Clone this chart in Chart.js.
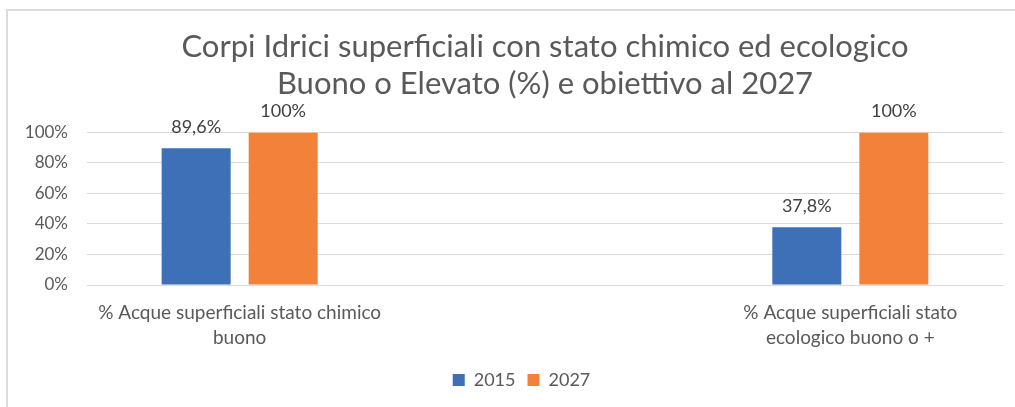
<!DOCTYPE html>
<html lang="it">
<head>
<meta charset="utf-8">
<title>Corpi Idrici superficiali</title>
<script src="https://cdn.jsdelivr.net/npm/chart.js@4/dist/chart.umd.min.js"></script>
<style>
  html, body { margin: 0; padding: 0; background: #fff; }
  #wrap { position: relative; width: 1015px; height: 407px; overflow: hidden; }
  #frame {
    position: absolute; left: 6px; top: 9px; right: -4px; bottom: -4px;
    border: 2px solid #dcdcdc; pointer-events: none;
  }
</style>
</head>
<body>
<div id="wrap">
  <canvas id="chart" width="1015" height="407"></canvas>
  <div id="frame"></div>
</div>
<script>
  const titleLines = [
    "Corpi Idrici superficiali con stato chimico ed ecologico",
    "Buono o Elevato (%) e obiettivo al 2027",
  ];
  const categories = [
    ["% Acque superficiali stato chimico", "buono"],
    ["% Acque superficiali stato", "ecologico buono o +"],
  ];
  const seriesNames = ["2015", "2027"];
  const values2015 = [89.6, 37.8];
  const values2027 = [100, 100];
  const yTicks = [0, 20, 40, 60, 80, 100];

  const COLORS = { blue: "#3d70b7", orange: "#f4813a", text: "#595959", label: "#404040", grid: "#d9d9d9" };
  const FONT = "Lato, 'Open Sans', sans-serif";
  const LEGEND_SHIFT = 20; // excel centres the legend a bit right of the page middle

  const pctFmt = new Intl.NumberFormat("it-IT", { maximumFractionDigits: 1 });

  function toPoints(values) {
    return values.map((v, i) => ({ x: i + 1, y: v }));
  }

  // value labels above each bar
  const barLabels = {
    id: "barLabels",
    afterDatasetsDraw(chart) {
      const ctx = chart.ctx;
      ctx.save();
      ctx.font = "18px " + FONT;
      ctx.fillStyle = COLORS.label;
      ctx.textAlign = "center";
      ctx.textBaseline = "alphabetic";
      chart.data.datasets.forEach((ds, di) => {
        chart.getDatasetMeta(di).data.forEach((bar, i) => {
          ctx.fillText(pctFmt.format(ds.data[i].y) + "%", bar.x, bar.y - 15);
        });
      });
      ctx.restore();
    },
  };

  const legendShift = {
    id: "legendShift",
    afterLayout(chart) {
      if (chart.legend) {
        chart.legend.left += LEGEND_SHIFT;
        chart.legend.right += LEGEND_SHIFT;
      }
    },
  };

  Chart.defaults.font.family = FONT;
  Chart.defaults.color = COLORS.text;

  new Chart(document.getElementById("chart"), {
    type: "bar",
    data: {
      datasets: [
        { label: seriesNames[0], data: toPoints(values2015), backgroundColor: COLORS.blue, borderWidth: 0 },
        { label: seriesNames[1], data: toPoints(values2027), backgroundColor: COLORS.orange, borderWidth: 0 },
      ],
    },
    options: {
      responsive: false,
      animation: false,
      categoryPercentage: 0.285,
      barPercentage: 0.793,
      layout: { padding: { left: 0, right: 12, top: 0, bottom: 8 } },
      plugins: {
        title: {
          display: true,
          fullSize: false,
          text: titleLines,
          color: COLORS.text,
          font: { size: 31, weight: "normal", lineHeight: 1.2 },
          padding: { top: 28, bottom: 30 },
        },
        legend: {
          position: "bottom",
          labels: { boxWidth: 12, boxHeight: 12, font: { size: 18 }, color: COLORS.text, padding: 12 },
        },
        tooltip: { enabled: false },
      },
      scales: {
        x: {
          type: "linear",
          offset: false,
          bounds: "data",
          min: 0.75,
          max: 2.25,
          grid: { display: false },
          border: { display: false },
          afterBuildTicks: (scale) => {
            scale.ticks = categories.map((_, i) => ({ value: i + 1 }));
          },
          afterFit: (scale) => { scale.height = 74; },
          ticks: {
            autoSkip: false,
            maxRotation: 0,
            padding: 8,
            font: { size: 19, lineHeight: 1.28 },
            color: COLORS.text,
            callback: (v) => categories[v - 1] || "",
          },
        },
        y: {
          min: 0,
          max: 100,
          afterBuildTicks: (scale) => {
            scale.ticks = yTicks.map((v) => ({ value: v }));
          },
          afterFit: (scale) => { scale.width = 87; },
          grid: { color: COLORS.grid, drawTicks: false },
          border: { display: false },
          ticks: {
            padding: 19,
            font: { size: 17 },
            color: COLORS.text,
            callback: (v) => v + "%",
          },
        },
      },
    },
    plugins: [barLabels, legendShift],
  });
</script>
</body>
</html>
